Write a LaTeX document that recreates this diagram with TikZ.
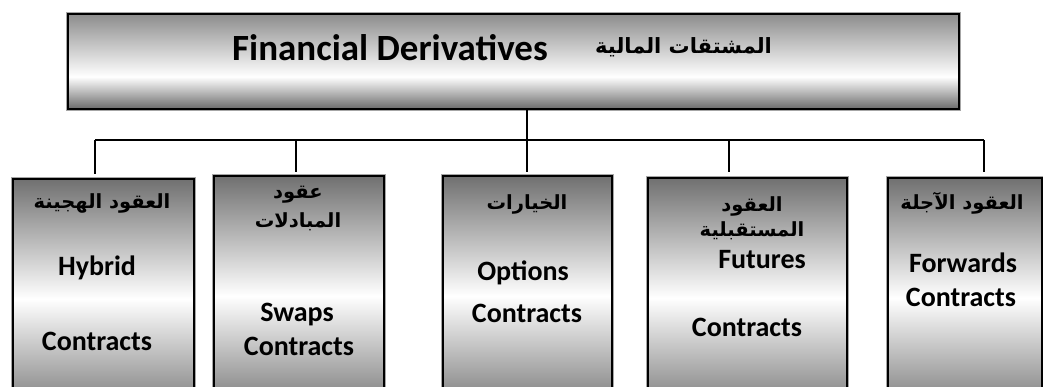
\documentclass[tikz,border=0pt]{standalone}
\usepackage{fontspec}
\setmainfont{Carlito}
\newfontfamily\arabicfont[Script=Arabic]{DejaVu Sans}
\TeXXeTstate=1

% grey - white - grey fill of the heading box (white band sits low)
\pgfdeclareverticalshading{headshade}{100bp}{%
  color(0bp)=(black!58); color(25bp)=(black!58); color(42bp)=(white);
  color(75bp)=(black!45); color(100bp)=(black!45)}

\tikzset{
  framed/.style={draw=black, line width=2pt,
    preaction={draw=black!35, line width=3.4pt}},
  head/.style={framed, shading=headshade, anchor=north west, inner sep=0pt,
    minimum width=891pt, minimum height=95pt},
  kind/.style={framed, top color=black!56, bottom color=black!56,
    middle color=white, anchor=north west, inner sep=0pt,
    minimum height=240pt},
  en/.style={font=\fontsize{28}{30}\selectfont\bfseries, inner sep=0pt},
  entitle/.style={font=\fontsize{37}{40}\selectfont\bfseries, inner sep=0pt},
  ar/.style={font=\arabicfont\fontsize{19.5}{22}\selectfont\bfseries, inner sep=0pt},
  artitle/.style={font=\arabicfont\fontsize{21}{24}\selectfont\bfseries, inner sep=0pt},
  wire/.style={line width=2pt},
}

\begin{document}
\begin{tikzpicture}[x=1pt,y=-1pt]
\clip (0,0) rectangle (1043,387);

% heading
\node[head] (top) at (67,13) {};
\node[entitle] (titleEn) at (390,48) {Financial Derivatives};
\node[artitle, anchor=west] (titleAr) at (595,47) {\beginR المشتقات المالية\endR};

% the five kinds of contract
\node[kind, minimum width=181pt] (hyb) at (12,178) {};
\node[kind, minimum width=170pt] (swp) at (213,175) {};
\node[kind, minimum width=169pt] (opt) at (442,175) {};
\node[kind, minimum width=199pt] (fut) at (647,177) {};
\node[kind, minimum width=154pt] (fwd) at (887,177) {};

% branch points on the bus line
\coordinate (jh) at (95,140);
\coordinate (js) at (296,140);
\coordinate (jo) at (527,140);
\coordinate (jf) at (729,140);
\coordinate (jw) at (984,140);

\draw[wire] (jh) -- (jw);
\draw[wire] (top.south -| jo) -- (jo);
\draw[wire, shorten >=4pt] (jh) -- (jh |- hyb.north);
\draw[wire, shorten >=3pt] (js) -- (js |- swp.north);
\draw[wire, shorten >=3pt] (jo) -- (jo |- opt.north);
\draw[wire, shorten >=5pt] (jf) -- (jf |- fut.north);
\draw[wire, line width=2.6pt, shorten >=5pt] (jw) -- (jw |- fwd.north);

% labels
\node[ar] (hybAr) at (102,203) {\beginR العقود الهجينة\endR};
\node[en] (hybEn) at (97,268) {Hybrid};
\node[en] (hybCt) at (97,341) {Contracts};

\node[ar] (swpAr1) at (298,195) {\beginR عقود\endR};
\node[ar] (swpAr2) at (298,222) {\beginR المبادلات\endR};
\node[en] (swpEn) at (297,315) {Swaps};
\node[en] (swpCt) at (299,346) {Contracts};

\node[ar] (optAr) at (527,204) {\beginR الخيارات\endR};
\node[en] (optEn) at (523,273) {Options};
\node[en] (optCt) at (527,313) {Contracts};

\node[ar] (futAr1) at (752,206) {\beginR العقود\endR};
\node[ar] (futAr2) at (752,231) {\beginR المستقبلية\endR};
\node[en] (futEn) at (762,260) {Futures};
\node[en] (futCt) at (747,327) {Contracts};

\node[ar] (fwdAr) at (962,203) {\beginR العقود الآجلة\endR};
\node[en] (fwdEn) at (963,263) {Forwards};
\node[en] (fwdCt) at (961,297) {Contracts};
\end{tikzpicture}
\end{document}
